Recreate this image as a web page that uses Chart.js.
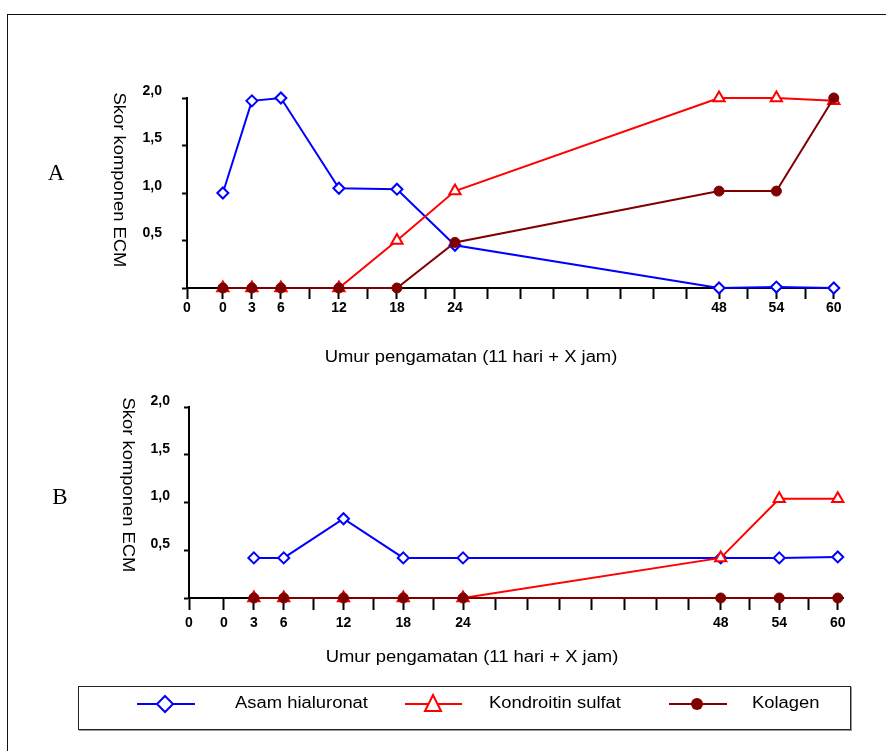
<!DOCTYPE html>
<html>
<head>
<meta charset="utf-8">
<script src="https://cdn.jsdelivr.net/npm/chart.js@4/dist/chart.umd.min.js"></script>
<style>
  body { margin: 0; background: #fff; width: 886px; height: 751px; overflow: hidden; position: relative; font-family: "Liberation Sans", Arial, sans-serif; }
  .frame { position: absolute; left: 7px; top: 14px; width: 900px; height: 760px; border-left: 1.5px solid #111; border-top: 1.5px solid #111; }
  canvas { position: absolute; left: 0; }
  .txt { position: absolute; font-size: 16px; color: #000; white-space: nowrap; }
  .c { transform: translate(-50%, -50%) scaleX(1.15); }
  .rot { transform: translate(-50%, -50%) rotate(90deg) scaleX(1.15); }
  .panel { position: absolute; font-family: "Liberation Serif", "Times New Roman", serif; font-size: 23px; transform: translate(-50%, -50%); }
  .legend { position: absolute; left: 78px; top: 686px; width: 771px; height: 42px; border: 1.5px solid #222; box-shadow: 1px 1px 0 #999; }
  .lg { position: absolute; top: 703px; font-size: 16px; transform: translateY(-50%) scaleX(1.15); transform-origin: left center; white-space: nowrap; }
</style>
</head>
<body>
<div class="frame"></div>

<canvas id="chartA" width="886" height="380" style="top:0"></canvas>
<canvas id="chartB" width="886" height="310" style="top:370px"></canvas>

<div class="panel" style="left:56px; top:173px">A</div>
<div class="panel" style="left:60px; top:497px">B</div>
<div class="txt rot" style="left:119px; top:180px">Skor komponen ECM</div>
<div class="txt rot" style="left:128px; top:485px">Skor komponen ECM</div>
<div class="txt c" style="left:471px; top:357px">Umur pengamatan (11 hari + X jam)</div>
<div class="txt c" style="left:472px; top:657px">Umur pengamatan (11 hari + X jam)</div>

<div class="legend"></div>
<svg width="886" height="751" style="position:absolute; left:0; top:0">
  <line x1="137" y1="704" x2="195" y2="704" stroke="#0000ff" stroke-width="2"/>
  <polygon points="165,696 173,704 165,712 157,704" fill="#fff" stroke="#0000ff" stroke-width="2"/>
  <line x1="405" y1="704" x2="462" y2="704" stroke="#ff0000" stroke-width="2"/>
  <polygon points="433,695 441,711 425,711" fill="#fff" stroke="#ff0000" stroke-width="2"/>
  <line x1="669" y1="704" x2="727" y2="704" stroke="#800000" stroke-width="2"/>
  <circle cx="697" cy="704" r="6" fill="#800000"/>
</svg>
<div class="lg" style="left:235px">Asam hialuronat</div>
<div class="lg" style="left:489px">Kondroitin sulfat</div>
<div class="lg" style="left:752px">Kolagen</div>

<script>
// Jam pengamatan (11 hari + X jam)
const hoursA = [0, 3, 6, 12, 18, 24, 48, 54, 60];
const hoursB = [3, 6, 12, 18, 24, 48, 54, 60];

// Panel A
const hialuronatA = [1.0, 1.97, 2.0, 1.05, 1.04, 0.45, 0.0, 0.01, 0.0];
const kondroitinA = [0, 0, 0, 0, 0.5, 1.02, 2.0, 2.0, 1.97];
const kolagenA = [0, 0, 0, 0, 0, 0.48, 1.02, 1.02, 2.0];

// Panel B
const hialuronatB = [0.42, 0.42, 0.83, 0.42, 0.42, 0.42, 0.42, 0.43];
const kondroitinB = [0, 0, 0, 0, 0, 0.42, 1.04, 1.04];
const kolagenB = [0, 0, 0, 0, 0, 0, 0, 0];

// Sumbu
const xOrigin = -3.5;
const xMax = 60.5;
const xTickHours = [xOrigin, 0, 3, 6, 9, 12, 15, 18, 21, 24, 27, 30, 33, 36, 39, 42, 45, 48, 51, 54, 57, 60];
const xLabelHours = [0, 3, 6, 12, 18, 24, 48, 54, 60];
const yTicks = [0, 0.5, 1.0, 1.5, 2.0];

const BLUE = '#0000ff', RED = '#ff0000', DARK = '#800000';
const tickFont = { family: '"Liberation Sans", Arial, sans-serif', size: 14, weight: 'bold' };

// Sumbu x asli tidak linear (bagian 24-48 jam lebih lebar), jadi skala linear sepotong-sepotong
class PiecewiseScale extends Chart.LinearScale {
    _toFrac(value) {
        const k = this.options.knots;
        if (value <= k[0][0]) return k[0][1];
        for (let i = 1; i < k.length; i++) {
            if (value <= k[i][0]) {
                const t = (value - k[i - 1][0]) / (k[i][0] - k[i - 1][0]);
                return k[i - 1][1] + t * (k[i][1] - k[i - 1][1]);
            }
        }
        return k[k.length - 1][1];
    }
    getPixelForValue(value) {
        return value === null ? NaN : this.getPixelForDecimal(this._toFrac(value));
    }
    getValueForPixel(pixel) {
        const f = this.getDecimalForPixel(pixel);
        const k = this.options.knots;
        for (let i = 1; i < k.length; i++) {
            if (f <= k[i][1]) {
                const t = (f - k[i - 1][1]) / (k[i][1] - k[i - 1][1]);
                return k[i - 1][0] + t * (k[i][0] - k[i - 1][0]);
            }
        }
        return k[k.length - 1][0];
    }
}
PiecewiseScale.id = 'piecewise';
PiecewiseScale.defaults = Chart.LinearScale.defaults;
Chart.register(PiecewiseScale);

function pts(hours, vals) {
    return hours.map((h, i) => ({ x: h, y: vals[i] }));
}

function makeChart(id, hours, hia, kon, kol, lay) {
    const ctx = document.getElementById(id).getContext('2d');
    return new Chart(ctx, {
        type: 'line',
        data: {
            datasets: [{
                label: 'Asam hialuronat',
                data: pts(hours, hia),
                borderColor: BLUE,
                borderWidth: 2,
                pointStyle: 'rectRot',
                pointRadius: 5.5,
                pointBorderWidth: 2,
                pointBorderColor: BLUE,
                pointBackgroundColor: '#fff',
                order: 2,
                clip: false
            }, {
                label: 'Kondroitin sulfat',
                data: pts(hours, kon),
                borderColor: RED,
                borderWidth: 2,
                pointStyle: 'triangle',
                pointRadius: 6.5,
                pointBorderWidth: 2,
                pointBorderColor: RED,
                pointBackgroundColor: kon.map(v => v === 0 ? RED : '#fff'),
                order: 1,
                clip: false
            }, {
                label: 'Kolagen',
                data: pts(hours, kol),
                borderColor: DARK,
                borderWidth: 2,
                pointStyle: 'circle',
                pointRadius: 5,
                pointBorderWidth: 1,
                pointBorderColor: DARK,
                pointBackgroundColor: DARK,
                order: 0,
                clip: false
            }]
        },
        options: {
            responsive: false,
            animation: false,
            layout: { padding: lay.padding },
            plugins: { legend: { display: false }, tooltip: { enabled: false } },
            elements: { line: { tension: 0 } },
            scales: {
                x: {
                    type: 'piecewise',
                    knots: lay.knots,
                    min: xOrigin,
                    max: xMax,
                    afterBuildTicks: s => { s.ticks = xTickHours.map(v => ({ value: v })); },
                    afterFit: s => { s.height = 45; },
                    grid: { drawOnChartArea: false, drawTicks: true, tickLength: lay.xTick, tickColor: '#000', tickWidth: 2 },
                    border: { display: true, color: '#000', width: 2 },
                    ticks: {
                        autoSkip: false, maxRotation: 0, padding: lay.xPad, color: '#000', font: tickFont,
                        callback: v => v === xOrigin ? '0' : (xLabelHours.includes(v) ? String(v) : '')
                    }
                },
                y: {
                    min: 0,
                    max: 2,
                    afterBuildTicks: s => { s.ticks = yTicks.map(v => ({ value: v })); },
                    afterFit: s => { s.width = lay.yWidth; },
                    grid: { drawOnChartArea: false, drawTicks: true, tickLength: 5, tickColor: '#000', tickWidth: 2 },
                    border: { display: true, color: '#000', width: 2 },
                    ticks: {
                        padding: lay.yPad, labelOffset: lay.yOff, color: '#000', font: tickFont,
                        callback: v => v === 0 ? '' : v.toFixed(1).replace('.', ',')
                    }
                }
            }
        }
    });
}

makeChart('chartA', hoursA, hialuronatA, kondroitinA, kolagenA, {
    padding: { left: 0, right: 47, top: 98, bottom: 47 },
    knots: [[xOrigin, 0], [0, 0.055], [24, 0.411], [48, 0.816], [60, 0.992], [xMax, 1]],
    yWidth: 187, yPad: 20, yOff: -7, xTick: 11, xPad: 1
});

makeChart('chartB', hoursB, hialuronatB, kondroitinB, kolagenB, {
    padding: { left: 0, right: 43, top: 37, bottom: 37 },
    knots: [[xOrigin, 0], [0, 0.0535], [24, 0.419], [48, 0.813], [60, 0.992], [xMax, 1]],
    yWidth: 189, yPad: 14, yOff: -6, xTick: 12, xPad: 5
});
</script>
</body>
</html>
